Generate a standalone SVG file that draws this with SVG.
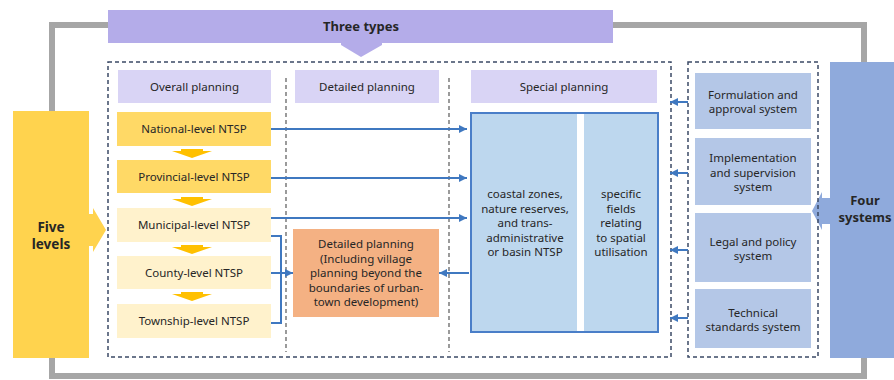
<svg xmlns="http://www.w3.org/2000/svg" width="894" height="380" viewBox="0 0 894 380">
  <defs>
    <style>
      text { font-family: "Noto Sans", "Open Sans", "Liberation Sans", sans-serif; fill: #262626; text-anchor: middle; }
      .t { font-size: 11.5px; }
      .b { font-weight: bold; font-size: 13.5px; }
      .hdr { fill: #d9d4f5; }
      .lvl1 { fill: #ffd966; }
      .lvl2 { fill: #fff2cc; }
      .sys { fill: #b4c7e7; }
      .dash { fill: none; stroke: #3b4a66; stroke-width: 1.5; stroke-dasharray: 4 3; }
      .div { fill: none; stroke: #595959; stroke-width: 1.2; stroke-dasharray: 4 3; }
      .link { fill: none; stroke: #3f78c0; stroke-width: 2; }
      .down { fill: #ffc000; }
    </style>
    <marker id="ah" viewBox="0 0 10 10" refX="10" refY="5" markerWidth="8" markerHeight="8" markerUnits="userSpaceOnUse" orient="auto">
      <path d="M0,0 L10,5 L0,10 z" fill="#3f78c0"/>
    </marker>
  </defs>

  <!-- outer grey frame -->
  <rect x="52" y="25" width="812" height="351" fill="none" stroke="#a6a6a6" stroke-width="6"/>

  <!-- three types banner -->
  <g id="three-types">
    <rect x="108" y="10" width="505" height="33" fill="#b4ace9"/>
    <polygon points="341,43 382,43 382,45 361,57 341,45" fill="#b4ace9"/>
    <text class="b" x="361" y="31" style="font-size:13px">Three types</text>
  </g>

  <!-- five levels -->
  <g id="five-levels">
    <rect x="13" y="111" width="76" height="247" fill="#ffd34e"/>
    <polygon points="89,214 93,214 93,208 106,230 93,252 93,246 89,246" fill="#ffd34e"/>
    <text class="b" x="51" y="232">Five</text>
    <text class="b" x="51" y="249">levels</text>
  </g>

  <!-- four systems -->
  <g id="four-systems">
    <rect x="830" y="62" width="64" height="296" fill="#8faadc"/>
    <polygon points="830,198 822,198 822,192 812,211 822,230 822,224 830,224" fill="#8faadc"/>
    <text class="b" x="865" y="205" style="font-size:13px">Four</text>
    <text class="b" x="865" y="222" style="font-size:13px">systems</text>
  </g>

  <!-- planning containers -->
  <g id="planning-frame">
    <rect class="dash" x="108" y="62" width="563" height="295"/>
    <line class="div" x1="286" y1="78" x2="286" y2="352"/>
    <line class="div" x1="449" y1="78" x2="449" y2="352"/>
  </g>
  <g id="systems-frame">
    <rect class="dash" x="688" y="62" width="130" height="295"/>
  </g>

  <!-- column headers -->
  <g id="overall-planning">
    <rect class="hdr" x="118" y="70" width="153" height="33"/>
    <text class="t" x="194.5" y="91">Overall planning</text>
  </g>
  <g id="detailed-planning-header">
    <rect class="hdr" x="295" y="70" width="144" height="33"/>
    <text class="t" x="367" y="91">Detailed planning</text>
  </g>
  <g id="special-planning">
    <rect class="hdr" x="471" y="70" width="186" height="33"/>
    <text class="t" x="564" y="91">Special planning</text>
  </g>

  <!-- levels -->
  <g id="national">
    <rect class="lvl1" x="117" y="112" width="154" height="34"/>
    <text class="t" x="194" y="133">National-level NTSP</text>
  </g>
  <g id="provincial">
    <rect class="lvl1" x="117" y="160" width="154" height="33"/>
    <text class="t" x="194" y="181">Provincial-level NTSP</text>
  </g>
  <g id="municipal">
    <rect class="lvl2" x="117" y="208" width="154" height="34"/>
    <text class="t" x="194" y="229">Municipal-level NTSP</text>
  </g>
  <g id="county">
    <rect class="lvl2" x="117" y="256" width="154" height="33"/>
    <text class="t" x="194" y="277">County-level NTSP</text>
  </g>
  <g id="township">
    <rect class="lvl2" x="117" y="304" width="154" height="34"/>
    <text class="t" x="194" y="325">Township-level NTSP</text>
  </g>

  <!-- level-to-level down arrows -->
  <g id="level-arrows">
    <polygon class="down" points="181,149 203,149 203,151 212,151 192,158 172,151 181,151"/>
    <polygon class="down" points="181,197 203,197 203,199 212,199 192,206 172,199 181,199"/>
    <polygon class="down" points="181,245 203,245 203,247 212,247 192,254 172,247 181,247"/>
    <polygon class="down" points="181,292 203,292 203,294 212,294 192,301 172,294 181,294"/>
  </g>

  <!-- detailed planning -->
  <g id="detailed-planning">
    <rect x="293" y="229" width="146" height="88" fill="#f4b183"/>
    <text class="t" x="366" y="248">Detailed planning</text>
    <text class="t" x="366" y="262.5">(Including village</text>
    <text class="t" x="366" y="277">planning beyond the</text>
    <text class="t" x="366" y="291.5">boundaries of urban-</text>
    <text class="t" x="366" y="306">town development)</text>
  </g>

  <!-- special planning content -->
  <g id="special-content">
    <rect x="471" y="113" width="187" height="219" fill="#bdd7ee" stroke="#4a7ec8" stroke-width="2"/>
    <rect x="577" y="114" width="7" height="217" fill="#ffffff"/>
    <text class="t" x="525" y="198">coastal zones,</text>
    <text class="t" x="525" y="212.5">nature reserves,</text>
    <text class="t" x="525" y="227">and trans-</text>
    <text class="t" x="525" y="241.5">administrative</text>
    <text class="t" x="525" y="256">or basin NTSP</text>
    <text class="t" x="621" y="198">specific</text>
    <text class="t" x="621" y="212.5">fields</text>
    <text class="t" x="621" y="227">relating</text>
    <text class="t" x="621" y="241.5">to spatial</text>
    <text class="t" x="621" y="256">utilisation</text>
  </g>

  <!-- systems -->
  <g id="formulation">
    <rect class="sys" x="695" y="73" width="116" height="56"/>
    <text class="t" x="753" y="99">Formulation and</text>
    <text class="t" x="753" y="113">approval system</text>
  </g>
  <g id="implementation">
    <rect class="sys" x="695" y="138" width="116" height="67"/>
    <text class="t" x="753" y="162">Implementation</text>
    <text class="t" x="753" y="176.5">and supervision</text>
    <text class="t" x="753" y="191">system</text>
  </g>
  <g id="legal">
    <rect class="sys" x="695" y="213" width="116" height="69"/>
    <text class="t" x="753" y="245.5">Legal and policy</text>
    <text class="t" x="753" y="260">system</text>
  </g>
  <g id="technical">
    <rect class="sys" x="695" y="289" width="116" height="59"/>
    <text class="t" x="753" y="316.5">Technical</text>
    <text class="t" x="753" y="331">standards system</text>
  </g>

  <!-- connectors -->
  <g id="connectors">
    <line class="link" x1="271" y1="129" x2="467" y2="129" marker-end="url(#ah)"/>
    <line class="link" x1="271" y1="178" x2="467" y2="178" marker-end="url(#ah)"/>
    <line class="link" x1="271" y1="218" x2="467" y2="218" marker-end="url(#ah)"/>
    <path class="link" d="M271,236 H281 V323 H271"/>
    <line class="link" x1="271" y1="273" x2="293" y2="273" marker-end="url(#ah)"/>
    <line class="link" x1="469" y1="273" x2="439" y2="273" marker-end="url(#ah)"/>
    <line class="link" x1="688" y1="102" x2="670" y2="102" marker-end="url(#ah)"/>
    <line class="link" x1="688" y1="173" x2="670" y2="173" marker-end="url(#ah)"/>
    <line class="link" x1="688" y1="250" x2="670" y2="250" marker-end="url(#ah)"/>
    <line class="link" x1="688" y1="318" x2="670" y2="318" marker-end="url(#ah)"/>
  </g>
</svg>
